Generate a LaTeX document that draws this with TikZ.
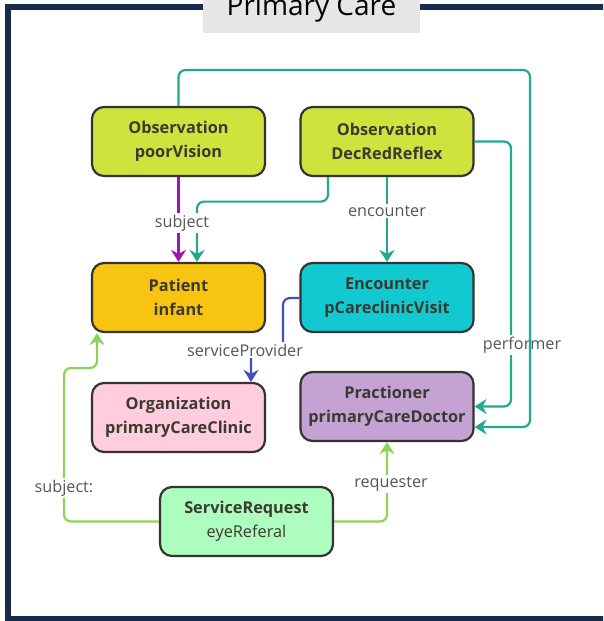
\documentclass[tikz,border=0pt]{standalone}
\usepackage{fontspec}
\setmainfont{Open Sans}
\usetikzlibrary{arrows.meta,calc}
\definecolor{frameblue}{HTML}{172B4D}
\definecolor{titlegray}{HTML}{E6E6E6}
\definecolor{obsfill}{HTML}{CFE33D}
\definecolor{patfill}{HTML}{F7C511}
\definecolor{encfill}{HTML}{13C9D1}
\definecolor{orgfill}{HTML}{FFCDDD}
\definecolor{pracfill}{HTML}{C4A2D4}
\definecolor{srfill}{HTML}{ADFDBF}
\definecolor{nodeborder}{HTML}{333333}
\definecolor{nodetext}{HTML}{3A3A30}
\definecolor{labeltext}{HTML}{555555}
\definecolor{edgepurple}{HTML}{A012B8}
\definecolor{edgeteal}{HTML}{1FAA8E}
\definecolor{edgeblue}{HTML}{3F4FC0}
\definecolor{edgegreen}{HTML}{8DD35A}
\tikzset{
  res/.style={draw=nodeborder, line width=2.2pt, rounded corners=12pt,
    minimum width=173pt, minimum height=69pt, align=center, inner sep=2pt,
    text=nodetext, font=\fontsize{16.3}{24}\selectfont\bfseries},
  conn/.style={line width=2.2pt, rounded corners=7pt,
    -{Stealth[length=12pt,width=15pt,inset=4pt]}},
  elabel/.style={fill=white, text=labeltext, inner sep=1.5pt,
    font=\fontsize{16.2}{18}\selectfont}
}
\begin{document}
\begin{tikzpicture}[x=1pt,y=-1pt]
\useasboundingbox (0,0) rectangle (603,621);
\clip (0,0) rectangle (603,621);
% frame
\draw[frameblue, line width=6pt] (8,7) rectangle (640,619);
\fill[titlegray] (203,-5) rectangle (420,33);
\node[anchor=base, font=\fontsize{28}{32}\selectfont, text=black, inner sep=0pt] (title) at (311.5,15) {Primary Care};
% nodes
\node[res, fill=obsfill] (pv) at (178.5,141.5) {Observation\\poorVision};
\node[res, fill=obsfill] (dr) at (387,141.5) {Observation\\DecRedReflex};
\node[res, fill=patfill] (pat) at (178.5,297.5) {Patient\\infant};
\node[res, fill=encfill] (enc) at (387,297.5) {Encounter\\pCareclinicVisit};
\node[res, fill=orgfill] (org) at (178.5,417.5) {Organization\\primaryCareClinic};
\node[res, fill=pracfill] (prac) at (387,406.5) {Practioner\\primaryCareDoctor};
\node[res, fill=srfill] (sr) at (246.5,521.5) {ServiceRequest\\\mdseries eyeReferal};
% edges
\draw[conn, edgepurple] (pv.south) -- (pat.north);
\draw[conn, edgeteal] ($(dr.south)+(-59,0)$) -- ++(0,24.5) -| ($(pat.north)+(18.5,0)$);
\node[elabel] (lsubj) at (182,223) {subject};
\draw[conn, edgeteal] (dr.south) -- (enc.north) node[elabel, pos=0.4] (lenc) {encounter};
\draw[conn, edgeteal] (dr.east) -- (511,141.5) -- (511,406.5) -- (prac.east);
\node[elabel] (lperf) at (522,345) {performer};
\draw[conn, edgeteal] (pv.north) -- (178.5,70) -- (530,70) -- (530,427) -- ($(prac.east)+(0,20.5)$);
\draw[conn, edgeblue] ($(enc.west)+(0,0.5)$) -- (283,298) -- (283,350) -- (251,350) -- ($(org.north)+(72.5,0)$);
\node[elabel] (lsp) at (245,350) {serviceProvider};
\draw[conn, edgegreen] (sr.west) -- (64,521.5) -- (64,368) -- (97,368) -- ($(pat.south)+(-81.5,0)$);
\node[elabel] (lsubj2) at (64,488) {subject:};
\draw[conn, edgegreen] (sr.east) -- (387,521.5) -- (prac.south);
\node[elabel] (lreq) at (391,484) {requester};
\end{tikzpicture}
\end{document}
